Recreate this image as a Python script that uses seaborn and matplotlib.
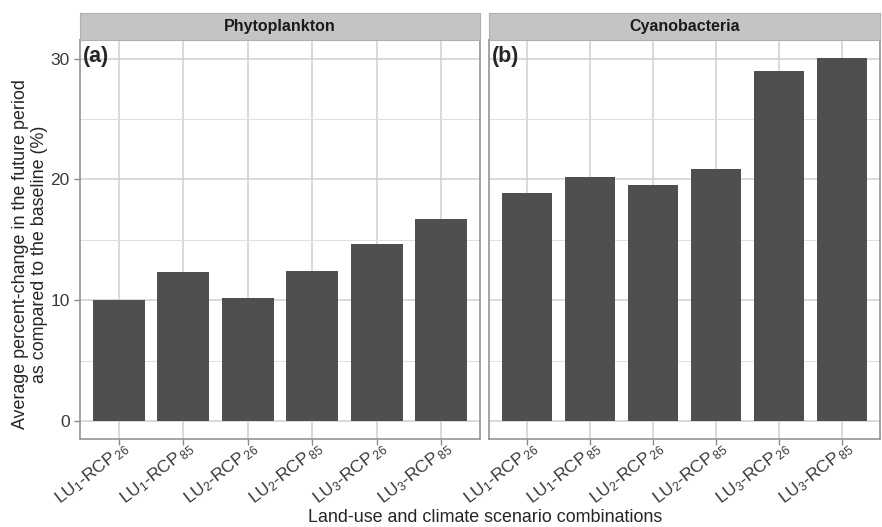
import seaborn as sns
import matplotlib.pyplot as plt
import pandas as pd
from matplotlib.ticker import MultipleLocator
from matplotlib.transforms import ScaledTranslation

scenarios = ["LU1-RCP26", "LU1-RCP85", "LU2-RCP26", "LU2-RCP85", "LU3-RCP26", "LU3-RCP85"]
tick_labels = [r"LU$_{1}$-RCP$_{\,26}$", r"LU$_{1}$-RCP$_{\,85}$", r"LU$_{2}$-RCP$_{\,26}$",
               r"LU$_{2}$-RCP$_{\,85}$", r"LU$_{3}$-RCP$_{\,26}$", r"LU$_{3}$-RCP$_{\,85}$"]
phyto = [10.0, 12.3, 10.15, 12.45, 14.65, 16.7]
cyano = [18.85, 20.2, 19.5, 20.9, 29.0, 30.05]
panels = ["Phytoplankton", "Cyanobacteria"]
tags = ["(a)", "(b)"]

sns.set_style("white")
plt.rcParams["font.family"] = ["Liberation Sans", "DejaVu Sans"]
plt.rcParams["mathtext.fontset"] = "custom"
plt.rcParams["mathtext.rm"] = "Liberation Sans"
plt.rcParams["mathtext.it"] = "Liberation Sans"
plt.rcParams["mathtext.default"] = "regular"

W, H = 882, 527
fig = plt.figure(figsize=(W / 100, H / 100), dpi=100)

boxes = [(80, 480), (489, 880)]
top, bottom, strip_top = 40, 439, 13

for i, (vals, name, tag) in enumerate(zip([phyto, cyano], panels, tags)):
    x0, x1 = boxes[i]
    ax = fig.add_axes([x0 / W, 1 - bottom / H, (x1 - x0) / W, (bottom - top) / H])
    df = pd.DataFrame({"scenario": scenarios, "value": vals})
    sns.barplot(data=df, x="scenario", y="value", color="#4f4f4f", saturation=1,
                width=0.8, linewidth=0, ax=ax, zorder=3)
    ax.set_xlim(-0.6, 5.6)
    ax.set_ylim(-1.5, 31.55)
    ax.yaxis.set_major_locator(MultipleLocator(10))
    ax.yaxis.set_minor_locator(MultipleLocator(5))
    ax.grid(which="major", color="#d0d0d0", lw=1.1, zorder=0)
    ax.grid(which="minor", axis="y", color="#e0e0e0", lw=0.7, zorder=0)
    ax.set_axisbelow(True)
    for s in ax.spines.values():
        s.set_color("#8c8c8c")
        s.set_linewidth(1.1)
    ax.set_xlabel("")
    ax.set_ylabel("")
    ax.set_xticks(range(len(scenarios)))
    ax.set_xticklabels(tick_labels, rotation=38, ha="right", va="center",
                       rotation_mode="anchor", fontsize=12.5, color="#3a3a3a")
    ax.tick_params(axis="x", which="major", pad=1)
    ax.tick_params(axis="both", which="major", length=4, color="#8c8c8c",
                   labelsize=12.5, labelcolor="#3a3a3a", width=1, bottom=True, left=(i == 0))
    ax.tick_params(axis="y", which="minor", length=0)
    shift = ScaledTranslation(0.09, 0.0, fig.dpi_scale_trans)
    for lab in ax.get_xticklabels():
        lab.set_transform(lab.get_transform() + shift)
    if i == 1:
        ax.set_yticklabels([])
    ax.text(0.008, 0.985, tag, transform=ax.transAxes, fontsize=15.5, fontweight="bold",
            va="top", ha="left", zorder=5)
    # facet strip
    sax = fig.add_axes([x0 / W, 1 - top / H, (x1 - x0) / W, (top - strip_top) / H])
    sax.set_facecolor("#c4c4c4")
    sax.set_xticks([])
    sax.set_yticks([])
    for s in sax.spines.values():
        s.set_color("#b0b0b0")
    sax.text(0.5, 0.5, name, transform=sax.transAxes, ha="center", va="center",
             fontsize=11.5, fontweight="bold", color="#1a1a1a")

fig.text(30 / W, 1 - 254 / H,
         "Average percent-change in the future period\nas compared to the baseline (%)",
         rotation=90, ha="center", va="center", fontsize=12.9, linespacing=1.1)
fig.text(485 / W, 1 - 518 / H, "Land-use and climate scenario combinations",
         ha="center", va="center", fontsize=12.9)

plt.savefig("out.png", dpi=100)
